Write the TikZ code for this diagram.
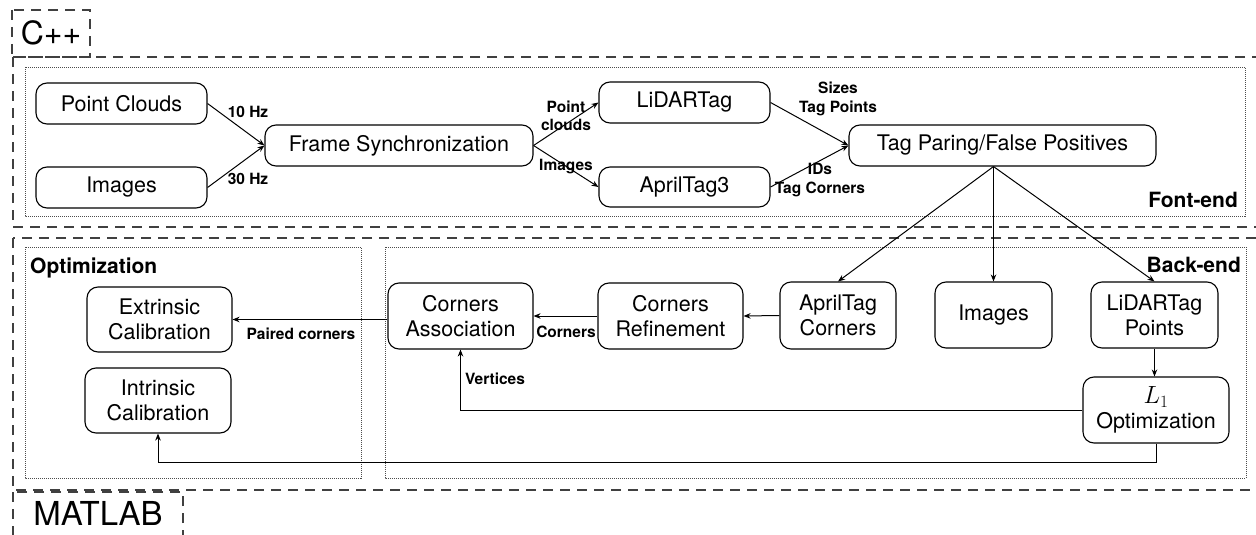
\documentclass[tikz,border=0pt]{standalone}
\usepackage{fontspec}
\setmainfont{TeX Gyre Heros}
\usetikzlibrary{arrows.meta}
\begin{document}
\begin{tikzpicture}[x=1pt,y=-1pt,
  box/.style={draw,rounded corners=11pt,line width=1.1pt,align=center,font=\fontsize{21.5}{25}\selectfont,inner sep=0pt},
  lbl/.style={font=\bfseries\fontsize{15.5}{18.5}\selectfont,align=center,inner sep=0pt},
  arr/.style={-{Stealth[length=7pt,width=5.5pt]},line width=1pt},
  dashbox/.style={draw=black!75,line width=1.3pt,dash pattern=on 10pt off 7pt},
  dotbox/.style={draw=black!70,line width=0.8pt,dash pattern=on 1pt off 1pt},
  sec/.style={font=\bfseries\fontsize{21}{25}\selectfont,inner sep=0pt},
  big/.style={font=\fontsize{32}{36}\selectfont,inner sep=0pt}
]
\useasboundingbox (0,0) rectangle (1256,535);
\begin{scope}
\clip (0,0) rectangle (1256,535);
% dashed language boxes
\draw[dashbox] (12,10) rectangle (90,57);
\draw[dashbox] (13,57) rectangle (1275,227);
\draw[dashbox] (13,238) rectangle (1275,490);
\draw[dashbox] (13,492) rectangle (183,550);
% dotted section boxes
\draw[dotbox] (25,67) rectangle (1245,216);
\draw[dotbox] (25,247) rectangle (361,478);
\draw[dotbox] (385,247) rectangle (1246,478);
\end{scope}
% section titles
\node[big,anchor=base] (cpp) at (51,45) {C++};
\node[font=\fontsize{33}{36}\selectfont,inner sep=0pt,anchor=base] (matlab) at (98,525) {MATLAB};
\node[sec,anchor=base east] (front) at (1238,207) {Font-end};
\node[sec,anchor=base east] (back) at (1241,272) {Back-end};
\node[sec,anchor=base west] (opt) at (30,273) {Optimization};
% front-end nodes
\node[box,minimum width=171pt,minimum height=41pt] (pc) at (121.5,103.5) {Point Clouds};
\node[box,minimum width=171pt,minimum height=41pt] (img) at (121.5,187.5) {Images};
\node[box,minimum width=268pt,minimum height=41pt] (fs) at (399,145.5) {Frame Synchronization};
\node[box,minimum width=171pt,minimum height=41pt] (lt) at (684.5,102.5) {LiDARTag};
\node[box,minimum width=171pt,minimum height=40pt] (at) at (684.5,187) {AprilTag3};
\node[box,minimum width=307pt,minimum height=41pt] (tp) at (1002.5,145.5) {Tag Paring/False Positives};
% back-end nodes
\node[box,minimum width=145pt,minimum height=65pt] (ext) at (159.5,319.5) {Extrinsic\\Calibration};
\node[box,minimum width=146pt,minimum height=65pt] (intr) at (158,400.5) {Intrinsic\\Calibration};
\node[box,minimum width=145pt,minimum height=66pt] (ca) at (460.5,316) {Corners\\Association};
\node[box,minimum width=145pt,minimum height=66pt] (cr) at (670.5,316) {Corners\\Refinement};
\node[box,minimum width=116pt,minimum height=67pt] (ac) at (838,315.5) {AprilTag\\Corners};
\node[box,minimum width=117pt,minimum height=66pt] (bimg) at (993.5,315) {Images};
\node[box,minimum width=127pt,minimum height=66pt] (lp) at (1154.5,315) {LiDARTag\\Points};
\node[box,minimum width=146pt,minimum height=66pt] (l1) at (1156,410) {{\fontsize{25}{25}\selectfont$L_1$}\\Optimization};
% front-end connectors
\draw[arr] (pc.east) -- (fs.west);
\draw[arr] (img.east) -- (fs.west);
\draw[arr] (fs.east) -- (lt.west);
\draw[arr] (fs.east) -- (at.west);
\draw[arr] (lt.east) -- (tp.west);
\draw[arr] (at.east) -- (tp.west);
% front to back
\draw[arr] (tp.south -| bimg) -- (ac.north);
\draw[arr] (tp.south -| bimg) -- (bimg.north);
\draw[arr] (tp.south -| bimg) -- (lp.north);
% back-end connectors
\draw[arr] (ac.west) -- (cr.east);
\draw[arr] (cr.west) -- (ca.east);
\draw[arr] (ca.west |- ext.east) -- (ext.east);
\draw[arr] (lp.south) -- (lp.south |- l1.north);
\draw[arr] (l1.west) -| (ca.south);
\draw[arr] (l1.south) -- ++(0,19) -| (intr.south);
% connector labels
\node[lbl] (l10) at (248,112) {10 Hz};
\node[lbl] (l30) at (248,179) {30 Hz};
\node[lbl] (lpc) at (566,116) {Point\\clouds};
\node[lbl] (lim) at (566,167) {Images};
\node[lbl] (lsz) at (838,99) {Sizes\\Tag Points};
\node[lbl] (lid) at (820,180) {IDs\\Tag Corners};
\node[lbl] (lpair) at (301,334) {Paired corners};
\node[lbl] (lcor) at (566,332) {Corners};
\node[lbl] (lver) at (495,379) {Vertices};
\end{tikzpicture}
\end{document}
